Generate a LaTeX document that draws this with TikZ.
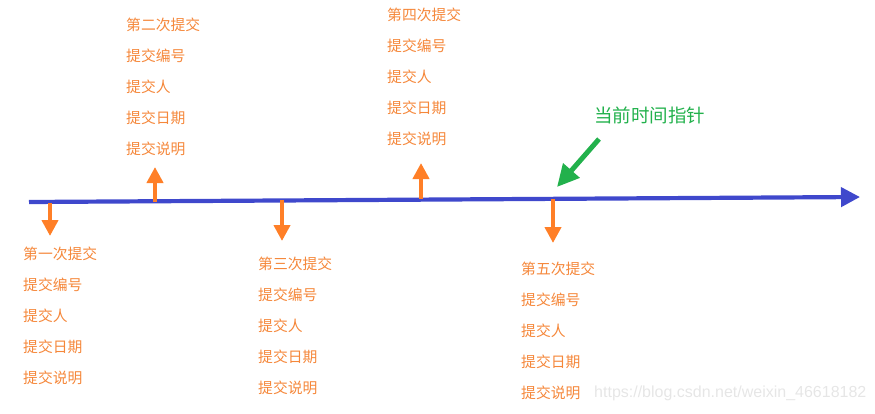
\documentclass[tikz,border=0pt]{standalone}
\usepackage{fontspec}
\setmainfont{Liberation Sans}
\newfontfamily\cjk{Noto Sans CJK SC}
\usetikzlibrary{arrows.meta}
\definecolor{axisblue}{HTML}{3F48CC}
\definecolor{ptrgreen}{HTML}{22B14C}
\definecolor{commitorange}{HTML}{FF7F27}
\definecolor{labelorange}{HTML}{F5873A}
\definecolor{wmgray}{HTML}{E6E6E6}
\tikzset{
  axisline/.style={draw=axisblue, line width=4.2, -{Triangle[width=19,length=19]}},
  commit/.style={draw=commitorange, line width=4.5, -{Triangle[width=16,length=16]}},
  pointer/.style={draw=ptrgreen, line width=5, -{Triangle[width=21,length=22]}},
  lbl/.style={font=\cjk\fontsize{14.8}{14.8}\selectfont, text=labelorange, anchor=west, inner sep=0},
  ptrlbl/.style={font=\cjk\fontsize{18.5}{18.5}\selectfont, text=ptrgreen, anchor=west, inner sep=0},
  wm/.style={font=\fontsize{16}{16}\selectfont, text=wmgray, anchor=west, inner sep=0}
}
\begin{document}
\begin{tikzpicture}[x=1pt,y=-1pt]
\useasboundingbox (0,0) rectangle (875,413);
% time axis
\coordinate (a0) at (29,202);
\coordinate (a1) at (860,197);
\draw[axisline] (a0) -- (a1);
% commits
\coordinate (c1s) at (50,203);  \coordinate (c1e) at (50,236);
\coordinate (c2s) at (155,202); \coordinate (c2e) at (155,167);
\coordinate (c3s) at (282,200); \coordinate (c3e) at (282,241);
\coordinate (c4s) at (421,199); \coordinate (c4e) at (421,163);
\coordinate (c5s) at (553,199); \coordinate (c5e) at (553,243);
\foreach \i in {1,...,5}{\draw[commit] (c\i s) -- (c\i e);}
% labels
\foreach \nm/\x/\y/\t in {
  a/23/254/第一次提交, b/126/25/第二次提交, c/258/264/第三次提交, d/387/15/第四次提交, e/521/269/第五次提交}{
  \node[lbl] (\nm0) at (\x,\y) {\t};
  \node[lbl] (\nm1) at (\x,\y+31) {提交编号};
  \node[lbl] (\nm2) at (\x,\y+62) {提交人};
  \node[lbl] (\nm3) at (\x,\y+93) {提交日期};
  \node[lbl] (\nm4) at (\x,\y+124) {提交说明};
}
% pointer
\node[ptrlbl] (ptr) at (594,115) {当前时间指针};
\coordinate (p0) at (599,139);
\coordinate (p1) at (557,187);
\draw[pointer] (p0) -- (p1);
% watermark
\node[wm] (wmk) at (594,393) {https://blog.csdn.net/weixin\_46618182};
\end{tikzpicture}
\end{document}
